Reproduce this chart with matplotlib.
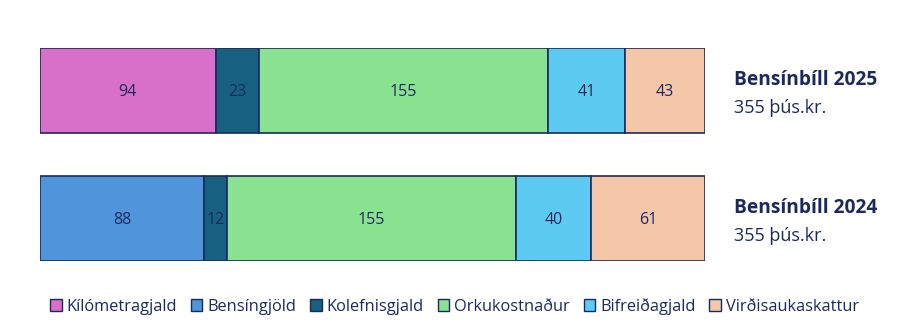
import numpy as np
import matplotlib.pyplot as plt
from matplotlib.patches import Patch

categories = ['Kílómetragjald', 'Bensíngjöld', 'Kolefnisgjald', 'Orkukostnaður', 'Bifreiðagjald', 'Virðisaukaskattur']
colors = ['#D86FC8', '#4F95D9', '#17607F', '#88E28F', '#5DCAF2', '#F5C7A9']
bar_names = ['Bensínbíll 2025', 'Bensínbíll 2024']
bar_totals = ['355 þús.kr.', '355 þús.kr.']
values = [
    [94, 0, 23, 155, 41, 43],
    [0, 88, 12, 155, 40, 61],
]

navy = '#1B2A5E'
plt.rcParams['font.family'] = ['Open Sans', 'DejaVu Sans']

fig = plt.figure(figsize=(9, 3.35), dpi=100)
ax = fig.add_axes([40 / 900, 74 / 335, 665 / 900, 213 / 335])

h = 85 / 128
for i, row in enumerate(values):
    left = 0
    for j, v in enumerate(row):
        if v == 0:
            continue
        ax.barh(i, v, left=left, height=h, color=colors[j], edgecolor=navy, linewidth=1.2)
        ax.text(left + v / 2, i + 0.015, str(v), ha='center', va='center', fontsize=11.5, color=navy)
        left += v

total = sum(values[0])
ax.set_xlim(0, total)
ax.set_ylim(1 + h / 2, -h / 2)
ax.axis('off')

for i, (name, tot) in enumerate(zip(bar_names, bar_totals)):
    ax.text(total * 1.044, i - 0.08, name, ha='left', va='center', fontsize=13.8, fontweight='bold', color=navy)
    ax.text(total * 1.044, i + 0.14, tot, ha='left', va='center', fontsize=13, color=navy)

handles = [Patch(facecolor=c, edgecolor=navy, linewidth=1) for c in colors]
fig.legend(handles, categories, loc='center', bbox_to_anchor=(0.505, 0.085), ncol=6, frameon=False,
           fontsize=11.8, handlelength=0.7, handleheight=0.7, handletextpad=0.3, columnspacing=0.85,
           labelcolor=navy)

fig.savefig('out.png', dpi=100)
